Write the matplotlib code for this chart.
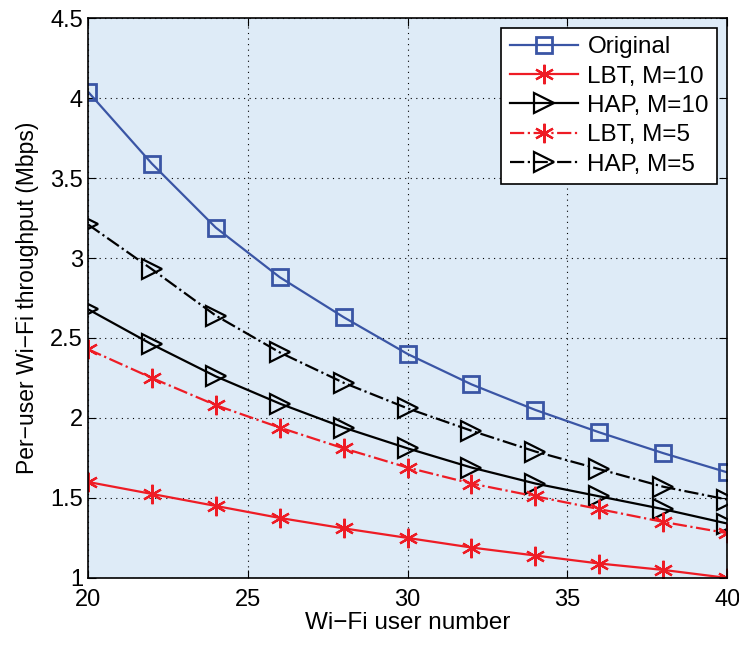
import matplotlib.pyplot as plt

plt.rcParams['font.family'] = ['Liberation Sans', 'DejaVu Sans']

# Datos
usuarios = [20, 22, 24, 26, 28, 30, 32, 34, 36, 38, 40]
original = [4.04, 3.59, 3.19, 2.88, 2.63, 2.40, 2.21, 2.05, 1.91, 1.78, 1.66]
lbt_m10 = [1.60, 1.525, 1.45, 1.375, 1.31, 1.25, 1.19, 1.14, 1.09, 1.05, 1.00]
hap_m10 = [2.68, 2.46, 2.26, 2.09, 1.94, 1.81, 1.69, 1.59, 1.51, 1.43, 1.34]
lbt_m5 = [2.43, 2.25, 2.08, 1.94, 1.81, 1.69, 1.59, 1.51, 1.43, 1.35, 1.28]
hap_m5 = [3.21, 2.93, 2.64, 2.41, 2.22, 2.06, 1.92, 1.79, 1.68, 1.57, 1.49]

azul = '#3a55a5'
rojo = '#ee1c25'
asterisco = (6, 2, 0)

fig = plt.figure(figsize=(7.39, 6.45), dpi=100)
ax = fig.add_axes([0.119, 0.104, 0.865, 0.868])
ax.set_facecolor('#deebf7')

ax.plot(usuarios, original, '-', color=azul, lw=1.6, marker='s', ms=12,
        mfc='none', mec=azul, mew=2, label='Original')
ax.plot(usuarios, lbt_m10, '-', color=rojo, lw=1.6, marker=asterisco, ms=14,
        mec=rojo, mew=1.6, label='LBT, M=10')
ax.plot(usuarios, hap_m10, '-', color='black', lw=1.6, marker='>', ms=14,
        mfc='none', mec='black', mew=1.6, label='HAP, M=10')
ax.plot(usuarios, lbt_m5, '-.', color=rojo, lw=1.6, marker=asterisco, ms=14,
        mec=rojo, mew=1.6, label='LBT, M=5')
ax.plot(usuarios, hap_m5, '-.', color='black', lw=1.6, marker='>', ms=14,
        mfc='none', mec='black', mew=1.6, label='HAP, M=5')

ax.set_xlim(20, 40)
ax.set_ylim(1, 4.5)
ax.set_xticks([20, 25, 30, 35, 40])
ax.set_yticks([1, 1.5, 2, 2.5, 3, 3.5, 4, 4.5])
ax.set_yticklabels(['1', '1.5', '2', '2.5', '3', '3.5', '4', '4.5'])
ax.grid(True, linestyle=(0, (1, 4)), color='black', lw=0.8)
ax.tick_params(direction='in', top=True, right=True, labelsize=17, length=6)
ax.tick_params(axis='x', pad=8)
for s in ax.spines.values():
    s.set_linewidth(1.2)

ax.set_xlabel('Wi\u2212Fi user number', fontsize=17.5, labelpad=1)
ax.set_ylabel('Per\u2212user Wi\u2212Fi throughput (Mbps)', fontsize=16.5, labelpad=8)

leg = ax.legend(loc='upper right', fontsize=17.5, fancybox=False, framealpha=1,
                edgecolor='black', handlelength=2.8, borderaxespad=0.4,
                labelspacing=0.3, handletextpad=0.4, borderpad=0.35)
leg.get_frame().set_linewidth(1.2)

fig.savefig('out.png', dpi=100)
